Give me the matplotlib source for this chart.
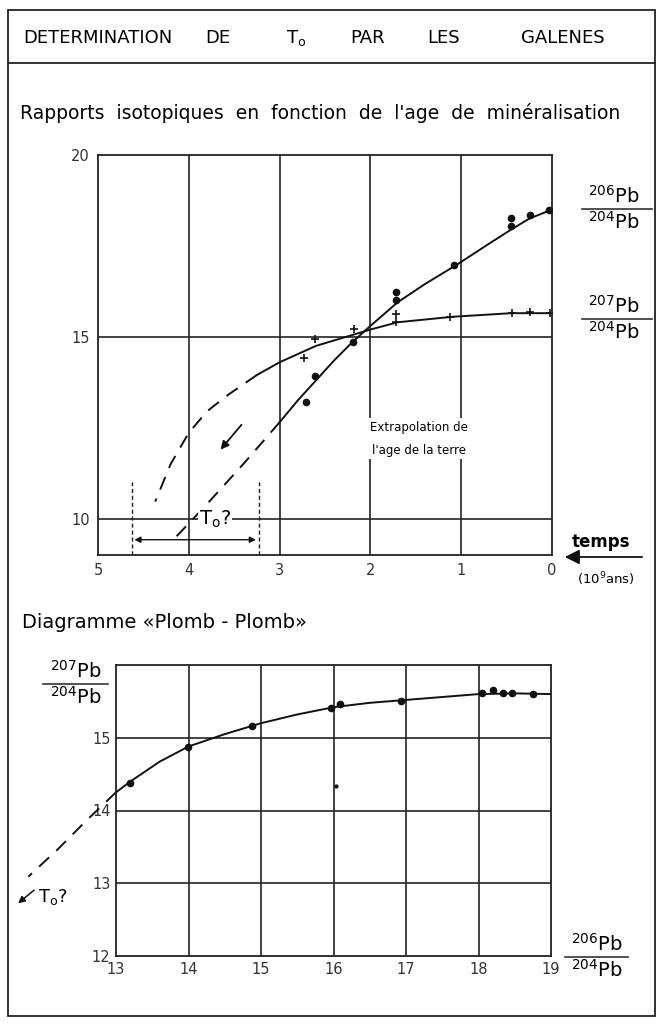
import matplotlib
matplotlib.use("Agg")
import matplotlib.pyplot as plt
from matplotlib.lines import Line2D
from matplotlib.patches import Rectangle, FancyArrowPatch

plt.rcParams['font.family'] = ['DejaVu Sans']
plt.rcParams['mathtext.fontset'] = 'dejavusans'

# --- top chart: isotopic ratios vs age (10^9 years) ---
pb206_age = [2.71, 2.61, 2.19, 1.72, 1.72, 1.08, 0.45, 0.45, 0.24, 0.03]
pb206_val = [13.2, 13.93, 14.86, 16.0, 16.22, 16.98, 18.05, 18.28, 18.35, 18.5]
pb207_age = [2.73, 2.61, 2.18, 1.72, 1.72, 1.12, 0.44, 0.24, 0.02]
pb207_val = [14.42, 14.95, 15.22, 15.4, 15.62, 15.55, 15.66, 15.69, 15.66]

curve206_x = [3.0, 2.8, 2.6, 2.4, 2.2, 2.0, 1.7, 1.4, 1.05, 0.7, 0.45, 0.25, 0.0]
curve206_y = [12.65, 13.25, 13.8, 14.35, 14.85, 15.3, 15.95, 16.45, 16.98, 17.55, 17.95, 18.25, 18.5]
extra206_x = [3.0, 3.4, 3.8, 4.17]
extra206_y = [12.65, 11.5, 10.4, 9.42]
curve207_x = [3.25, 3.0, 2.6, 2.2, 2.0, 1.7, 1.1, 0.45, 0.0]
curve207_y = [13.95, 14.3, 14.75, 15.05, 15.2, 15.4, 15.55, 15.65, 15.65]
extra207_x = [3.25, 3.57, 3.8, 4.0, 4.2, 4.37]
extra207_y = [13.95, 13.4, 12.95, 12.36, 11.5, 10.47]

# --- bottom chart: lead-lead diagram ---
pp_x = [13.19, 13.99, 14.88, 15.97, 16.09, 16.93, 18.05, 18.2, 18.34, 18.46, 18.75]
pp_y = [14.38, 14.87, 15.16, 15.41, 15.46, 15.5, 15.62, 15.65, 15.62, 15.62, 15.6]
pp_curve_x = [13.0, 13.2, 13.6, 14.0, 14.5, 15.0, 15.5, 16.0, 16.5, 17.0, 17.5, 18.0, 18.5, 19.0]
pp_curve_y = [14.25, 14.4, 14.67, 14.88, 15.05, 15.2, 15.32, 15.42, 15.48, 15.52, 15.56, 15.6, 15.61, 15.6]
pp_extra_x = [13.0, 12.6, 12.2, 11.79]
pp_extra_y = [14.25, 13.87, 13.47, 13.09]
outlier = (16.03, 14.34)

W, H = 660, 1024
fig = plt.figure(figsize=(W / 100, H / 100), dpi=100)


def fx(px):
    return px / W


def fy(py):
    return 1 - py / H


def frac_label(xc, ybar, x0, x1, top, bottom, size=13):
    fig.text(fx(xc), fy(ybar - 2), top, fontsize=size, ha='center', va='bottom')
    fig.add_artist(Line2D([fx(x0), fx(x1)], [fy(ybar), fy(ybar)], color='#333', lw=1.2))
    fig.text(fx(xc), fy(ybar + 2), bottom, fontsize=size, ha='center', va='top')


# outer frame and title band
fig.add_artist(Rectangle((fx(8), fy(1016)), fx(655) - fx(8), fy(10) - fy(1016),
                         fill=False, ec='#222', lw=1.3))
fig.add_artist(Line2D([fx(8), fx(655)], [fy(63), fy(63)], color='#222', lw=1.3))
title_words = ['DETERMINATION', 'DE', r'T$_\mathregular{o}$', 'PAR', 'LES', 'GALENES']
title_xs = [98, 218, 296, 368, 444, 563]
for w, x in zip(title_words, title_xs):
    fig.text(fx(x), fy(38), w, fontsize=13, ha='center', va='center')

fig.text(fx(20), fy(113), "Rapports  isotopiques  en  fonction  de  l'age  de  minéralisation",
         fontsize=13.5, ha='left', va='center')

# ---------------- top axes ----------------
ax = fig.add_axes([fx(98), fy(555), fx(552) - fx(98), fy(155) - fy(555)])
ax.set_xlim(5, 0)
ax.set_ylim(9, 20)
ax.set_xticks([5, 4, 3, 2, 1, 0])
ax.set_yticks([10, 15, 20])
ax.tick_params(length=0, labelsize=10.5, pad=6, colors='#333')
for v in [4, 3, 2, 1]:
    ax.axvline(v, color='#222', lw=1.2, zorder=1)
for v in [10, 15]:
    ax.axhline(v, color='#222', lw=1.2, zorder=1)
for s in ax.spines.values():
    s.set_linewidth(1.3)
    s.set_color('#222')

ax.plot(curve206_x, curve206_y, color='#111', lw=1.4, zorder=3)
ax.plot(extra206_x, extra206_y, color='#111', lw=1.4, ls=(0, (7, 5)), zorder=3)
ax.plot(curve207_x, curve207_y, color='#111', lw=1.4, zorder=3)
ax.plot(extra207_x, extra207_y, color='#111', lw=1.4, ls=(0, (7, 5)), zorder=3)
ax.plot(pb206_age, pb206_val, 'o', color='#111', ms=4.5, zorder=4)
ax.plot(pb207_age, pb207_val, '+', color='#111', ms=6, mew=1.2, zorder=4)

ax.annotate('', xy=(3.67, 11.84), xytext=(3.4, 12.64),
            arrowprops=dict(arrowstyle='-|>', color='#111', lw=1.3, mutation_scale=12))
for v in [4.63, 3.23]:
    ax.plot([v, v], [9, 11.0], color='#222', lw=1.0, ls=(0, (3, 2)), zorder=2)
ax.annotate('', xy=(4.63, 9.42), xytext=(3.23, 9.42),
            arrowprops=dict(arrowstyle='<|-|>', color='#111', lw=1.0, mutation_scale=9))
ax.text(3.71, 9.98, r'T$_\mathregular{o}$?', fontsize=14, ha='center', va='center', zorder=5,
        bbox=dict(fc='white', ec='none', pad=1))
ax.text(1.47, 12.2, "Extrapolation de\nl'age de la terre", fontsize=8.5, ha='center',
        va='center', linespacing=2.0, zorder=5, bbox=dict(fc='white', ec='none', pad=2))

frac_label(614, 209, 582, 652, r'$^{206}$Pb', r'$^{204}$Pb', size=14)
frac_label(614, 319, 582, 652, r'$^{207}$Pb', r'$^{204}$Pb', size=14)

fig.text(fx(601), fy(542), 'temps', fontsize=12, fontweight='bold', ha='center', va='center')
fig.add_artist(FancyArrowPatch((fx(645), fy(557)), (fx(562), fy(557)),
               transform=fig.transFigure, arrowstyle='-|>', mutation_scale=22,
               color='#111', lw=1.3))
fig.text(fx(606), fy(579), r'(10$^{9}$ans)', fontsize=9.5, ha='center', va='center')

# ---------------- bottom axes ----------------
fig.text(fx(22), fy(622), 'Diagramme «Plomb - Plomb»', fontsize=14, ha='left', va='center')

bx = fig.add_axes([fx(116), fy(956), fx(551) - fx(116), fy(665) - fy(956)])
bx.set_xlim(13, 19)
bx.set_ylim(12, 16)
bx.set_xticks(range(13, 20))
bx.set_yticks([12, 13, 14, 15])
bx.tick_params(length=0, labelsize=10.5, pad=4, colors='#333')
for v in range(14, 19):
    bx.axvline(v, color='#222', lw=1.2, zorder=1)
for v in [13, 14, 15]:
    bx.axhline(v, color='#222', lw=1.2, zorder=1)
for s in bx.spines.values():
    s.set_linewidth(1.3)
    s.set_color('#222')

bx.plot(pp_curve_x, pp_curve_y, color='#111', lw=1.4, zorder=3)
bx.plot(pp_extra_x, pp_extra_y, color='#111', lw=1.4, ls=(0, (7, 5)), zorder=3, clip_on=False)
bx.plot(pp_x, pp_y, 'o', color='#111', ms=4.5, zorder=4)
bx.plot([outlier[0]], [outlier[1]], 'o', color='#111', ms=2, zorder=4)

bx.annotate('', xy=(11.62, 12.7), xytext=(11.9, 12.93), annotation_clip=False,
            arrowprops=dict(arrowstyle='-|>', color='#111', lw=1.1, mutation_scale=10))
bx.text(11.93, 12.81, r'T$_\mathregular{o}$?', fontsize=13, ha='left', va='center', clip_on=False)

frac_label(76, 684, 43, 108, r'$^{207}$Pb', r'$^{204}$Pb', size=14)
frac_label(597, 957, 565, 628, r'$^{206}$Pb', r'$^{204}$Pb', size=14)

fig.savefig('out.png', dpi=100)
